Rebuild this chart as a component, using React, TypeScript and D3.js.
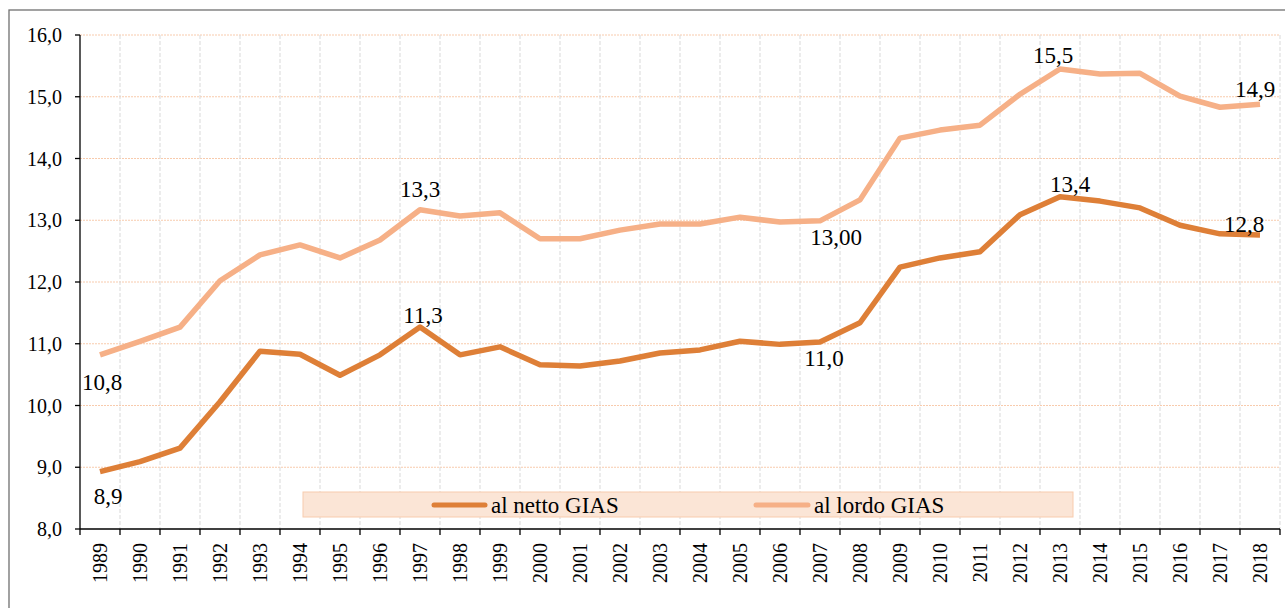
import * as d3 from "d3";

// years on the x axis
const years = [
  "1989", "1990", "1991", "1992", "1993", "1994", "1995", "1996", "1997", "1998",
  "1999", "2000", "2001", "2002", "2003", "2004", "2005", "2006", "2007", "2008",
  "2009", "2010", "2011", "2012", "2013", "2014", "2015", "2016", "2017", "2018",
];

// al netto GIAS
const netto = [
  8.93, 9.09, 9.31, 10.06, 10.88, 10.83, 10.49, 10.82, 11.27, 10.82,
  10.95, 10.66, 10.64, 10.72, 10.85, 10.9, 11.04, 10.99, 11.03, 11.34,
  12.24, 12.39, 12.49, 13.09, 13.38, 13.31, 13.2, 12.92, 12.78, 12.76,
];

// al lordo GIAS
const lordo = [
  10.82, 11.04, 11.27, 12.02, 12.44, 12.6, 12.39, 12.68, 13.17, 13.07,
  13.12, 12.7, 12.7, 12.84, 12.94, 12.94, 13.05, 12.97, 12.99, 13.33,
  14.33, 14.46, 14.54, 15.04, 15.45, 15.37, 15.38, 15.01, 14.83, 14.88,
];

const yTicks = [8, 9, 10, 11, 12, 13, 14, 15, 16];

// data labels shown on the chart
const nettoLabels = [
  { year: "1989", text: "8,9" },
  { year: "1997", text: "11,3" },
  { year: "2007", text: "11,0" },
  { year: "2013", text: "13,4" },
  { year: "2018", text: "12,8" },
];
const lordoLabels = [
  { year: "1989", text: "10,8" },
  { year: "1997", text: "13,3" },
  { year: "2007", text: "13,00" },
  { year: "2013", text: "15,5" },
  { year: "2018", text: "14,9" },
];

const W = 1285;
const H = 608;
const margin = { top: 35, right: 5, bottom: 79, left: 80 };
const font = '"Liberation Serif", "Times New Roman", "DejaVu Serif", serif';
const cNetto = "#de7f37";
const cLordo = "#f6b087";

// label offsets from the point (dx, dy to baseline)
const nettoOffsets: Record<string, [number, number]> = {
  "1989": [8, 32],
  "1997": [3, -4],
  "2007": [4, 24],
  "2013": [10, -5],
  "2018": [-16, -3],
};
const lordoOffsets: Record<string, [number, number]> = {
  "1989": [2, 35],
  "1997": [0, -13],
  "2007": [16, 24],
  "2013": [-7, -6],
  "2018": [-5, -7],
};

export default function App() {
  const x = d3
    .scaleBand<string>()
    .domain(years)
    .range([margin.left, W - margin.right])
    .padding(0);
  const y = d3
    .scaleLinear()
    .domain([8, 16])
    .range([H - margin.bottom, margin.top]);

  const cx = (yr: string) => (x(yr) as number) + x.bandwidth() / 2;

  const line = d3
    .line<number>()
    .x((_, i) => cx(years[i]))
    .y((d) => y(d));

  const x0 = margin.left;
  const x1 = W - margin.right;
  const yBottom = y(8);

  return (
    <svg
      width={W}
      height={H}
      style={{ position: "absolute", left: 0, top: 0, background: "#fff", fontFamily: font }}
    >
      {/* outer frame */}
      <rect x={9} y={10} width={W + 20} height={H + 20} fill="#fff" stroke="#707070" strokeWidth={1.3} />

      {/* horizontal grid */}
      {yTicks.slice(1).map((t) => (
        <line
          key={"h" + t}
          x1={x0}
          x2={x1}
          y1={y(t)}
          y2={y(t)}
          stroke="#f8cbad"
          strokeWidth={1}
          strokeDasharray="2,1"
        />
      ))}
      {/* vertical grid */}
      {years.slice(1).map((yr) => (
        <line
          key={"v" + yr}
          x1={x(yr)}
          x2={x(yr)}
          y1={margin.top}
          y2={yBottom}
          stroke="#d9d9d9"
          strokeWidth={1}
          strokeDasharray="4,2"
        />
      ))}
      <line x1={x1} x2={x1} y1={margin.top} y2={yBottom} stroke="#d9d9d9" strokeDasharray="4,2" />

      {/* legend */}
      <rect x={303} y={492} width={770} height={25} fill="#fbe5d6" stroke="#f8cbad" strokeWidth={1} />
      <line x1={434} x2={485} y1={505} y2={505} stroke={cNetto} strokeWidth={5} strokeLinecap="round" />
      <text x={491} y={513} fontSize={23} fill="#000">al netto GIAS</text>
      <line x1={756} x2={808} y1={505} y2={505} stroke={cLordo} strokeWidth={5} strokeLinecap="round" />
      <text x={814} y={513} fontSize={23} fill="#000">al lordo GIAS</text>

      {/* y axis */}
      <line x1={x0} x2={x0} y1={margin.top} y2={yBottom} stroke="#000" strokeWidth={1.3} />
      {yTicks.map((t) => (
        <g key={"yt" + t}>
          <line x1={x0 - 5} x2={x0} y1={y(t)} y2={y(t)} stroke="#000" strokeWidth={1.3} />
          <text x={62} y={y(t) + 7} textAnchor="end" fontSize={20} fill="#000">
            {d3.format(".1f")(t).replace(".", ",")}
          </text>
        </g>
      ))}

      {/* x axis */}
      <line x1={x0} x2={x1} y1={yBottom} y2={yBottom} stroke="#000" strokeWidth={1.3} />
      {[...years.map((yr) => x(yr) as number), x1].map((px, i) => (
        <line key={"xt" + i} x1={px} x2={px} y1={yBottom} y2={yBottom + 6} stroke="#000" strokeWidth={1.3} />
      ))}
      {years.map((yr) => (
        <text
          key={"xl" + yr}
          transform={`translate(${cx(yr) + 7},${yBottom + 14}) rotate(-90)`}
          textAnchor="end"
          fontSize={20}
          fill="#000"
        >
          {yr}
        </text>
      ))}

      {/* lines */}
      <path d={line(lordo) as string} fill="none" stroke={cLordo} strokeWidth={5.5} strokeLinejoin="round" />
      <path d={line(netto) as string} fill="none" stroke={cNetto} strokeWidth={5.5} strokeLinejoin="round" />

      {/* data labels */}
      {nettoLabels.map((l) => {
        const i = years.indexOf(l.year);
        const [dx, dy] = nettoOffsets[l.year];
        return (
          <text key={"nl" + l.year} x={cx(l.year) + dx} y={y(netto[i]) + dy} textAnchor="middle" fontSize={23} fill="#000">
            {l.text}
          </text>
        );
      })}
      {lordoLabels.map((l) => {
        const i = years.indexOf(l.year);
        const [dx, dy] = lordoOffsets[l.year];
        return (
          <text key={"ll" + l.year} x={cx(l.year) + dx} y={y(lordo[i]) + dy} textAnchor="middle" fontSize={23} fill="#000">
            {l.text}
          </text>
        );
      })}
    </svg>
  );
}
